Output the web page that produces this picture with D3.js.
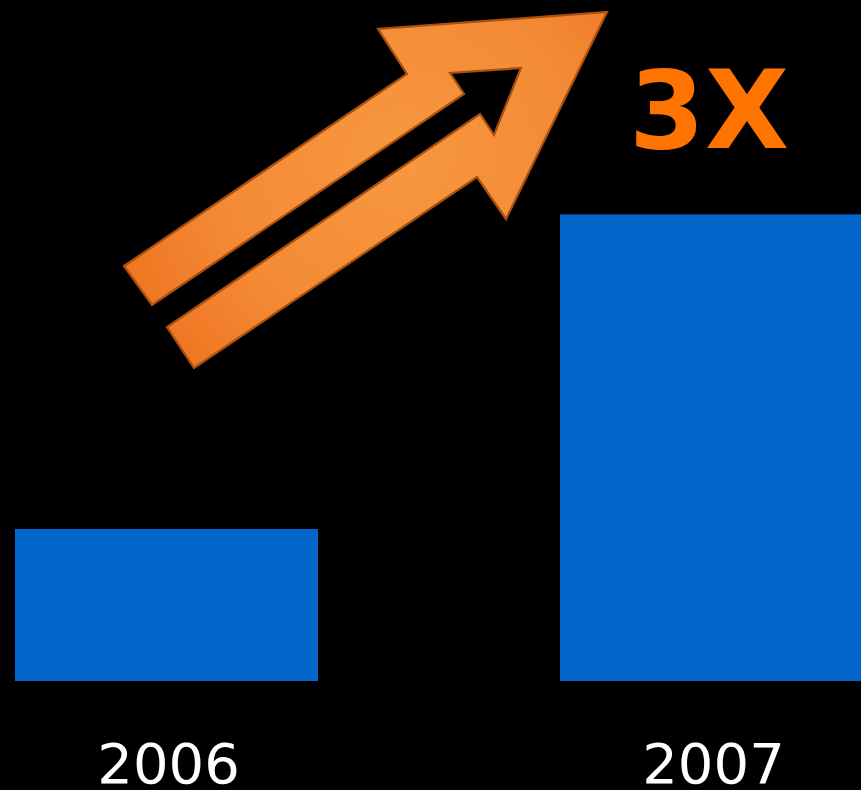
<!DOCTYPE html>
<html>
<head>
<meta charset="utf-8">
<script src="https://cdn.jsdelivr.net/npm/d3@7"></script>
<style>
  html, body { margin: 0; padding: 0; background: #000; }
  svg { display: block; }
</style>
</head>
<body>
<svg id="chart" width="861" height="790"></svg>
<script>
// Yearly totals, relative to 2006
const years = ["2006", "2007"];
const values = [1.0, 3.07];
const growthLabel = "3X";

// Double-shafted growth arrow outline (local drawing units)
const arrowShape = [
  [124, 266], [407, 74], [378, 29], [607, 12], [506, 219], [477, 177],
  [194, 368], [167, 327], [480, 114], [494, 135], [521, 68], [450, 73],
  [464, 94], [152, 305]
];

const W = 861, H = 790;
const svg = d3.select("#chart");

svg.append("rect").attr("width", W).attr("height", H).attr("fill", "#000");

const x = d3.scaleBand()
  .domain(years)
  .range([15, 863])
  .paddingInner(0.444)
  .paddingOuter(0);

const y = d3.scaleLinear()
  .domain([0, 4.48])
  .range([681, 0]);

// Bars
svg.append("g")
  .selectAll("rect")
  .data(years.map((yr, i) => ({ yr, v: values[i] })))
  .join("rect")
  .attr("x", d => x(d.yr))
  .attr("y", d => y(d.v))
  .attr("width", x.bandwidth())
  .attr("height", d => y(0) - y(d.v))
  .attr("fill", "#0366CB");

// Year labels
const xAxis = d3.axisBottom(x).tickSize(0).tickPadding(0);
const ax = svg.append("g")
  .attr("transform", `translate(2, 0)`)
  .call(xAxis);
ax.select(".domain").remove();
ax.selectAll("text")
  .attr("y", 783)
  .attr("dy", null)
  .attr("fill", "#fff")
  .attr("font-family", "DejaVu Sans")
  .attr("font-size", 56);

// Growth arrow
const defs = svg.append("defs");
const grad = defs.append("radialGradient")
  .attr("id", "arrowFill")
  .attr("gradientUnits", "userSpaceOnUse")
  .attr("cx", 400).attr("cy", 160).attr("r", 300);
grad.append("stop").attr("offset", "0").attr("stop-color", "#F7983F");
grad.append("stop").attr("offset", "0.6").attr("stop-color", "#F48A35");
grad.append("stop").attr("offset", "1").attr("stop-color", "#EF7522");

svg.append("path")
  .attr("d", d3.line()(arrowShape) + "Z")
  .attr("fill", "url(#arrowFill)")
  .attr("stroke", "#A9500E")
  .attr("stroke-width", 2.2)
  .attr("stroke-linejoin", "miter");

// Growth multiple
svg.append("text")
  .attr("x", 709)
  .attr("y", 148)
  .attr("text-anchor", "middle")
  .attr("font-family", "DejaVu Sans")
  .attr("font-weight", "bold")
  .attr("font-size", 109)
  .attr("fill", "#FF7400")
  .text(growthLabel);
</script>
</body>
</html>
